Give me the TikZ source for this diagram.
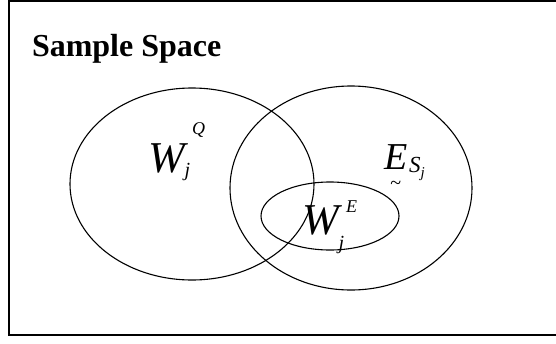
\documentclass[tikz,border=0pt]{standalone}
\usepackage{fontspec}
\setmainfont{Liberation Serif}
\usetikzlibrary{shapes.geometric}

% W with subscript j and a superscript: #1 drop of j, #2 lift of sup, #3 sup
\newcommand{\wlab}[3]{W\raisebox{-#1}{\fontsize{20}{20}\selectfont j}\hspace{2pt}\raisebox{#2}{\fontsize{18}{18}\selectfont #3}}

\begin{document}
\begin{tikzpicture}[
    x=1pt, y=-1pt,
    every node/.style={inner sep=0pt, outer sep=0pt},
    region/.style={ellipse, draw, line width=1.1pt},
    lbl/.style={anchor=base west, font=\fontsize{44}{44}\selectfont\itshape},
    ]
    \useasboundingbox (0,0) rectangle (556,343);
    % Frame
    \draw[line width=1.3pt] (9,1) rectangle (600,335);
    \node[anchor=base west, font=\fontsize{32}{32}\selectfont\bfseries] (title) at (32,56) {Sample Space};
    % Sets
    \node[region, minimum width=244pt, minimum height=192pt] (setQ) at (192,184) {};
    \node[region, minimum width=242pt, minimum height=204pt] (setE) at (351,188) {};
    \node[region, minimum width=138pt, minimum height=68pt]  (setW) at (330,216) {};
    % Labels
    \node[lbl] (labQ) at (148,172) {\wlab{4pt}{38pt}{Q}};
    \node[lbl] (labW) at (302,234) {\wlab{15pt}{22pt}{E}};
    \node[lbl, font=\fontsize{38}{38}\selectfont\itshape] (labE) at (384,169)
      {\rlap{\hspace{6pt}\raisebox{-20pt}{\fontsize{20}{20}\selectfont\char`~}}E\hspace{2pt}\raisebox{-3pt}{\fontsize{23}{23}\selectfont S\raisebox{-5pt}{\fontsize{15}{15}\selectfont j}}};
\end{tikzpicture}
\end{document}
